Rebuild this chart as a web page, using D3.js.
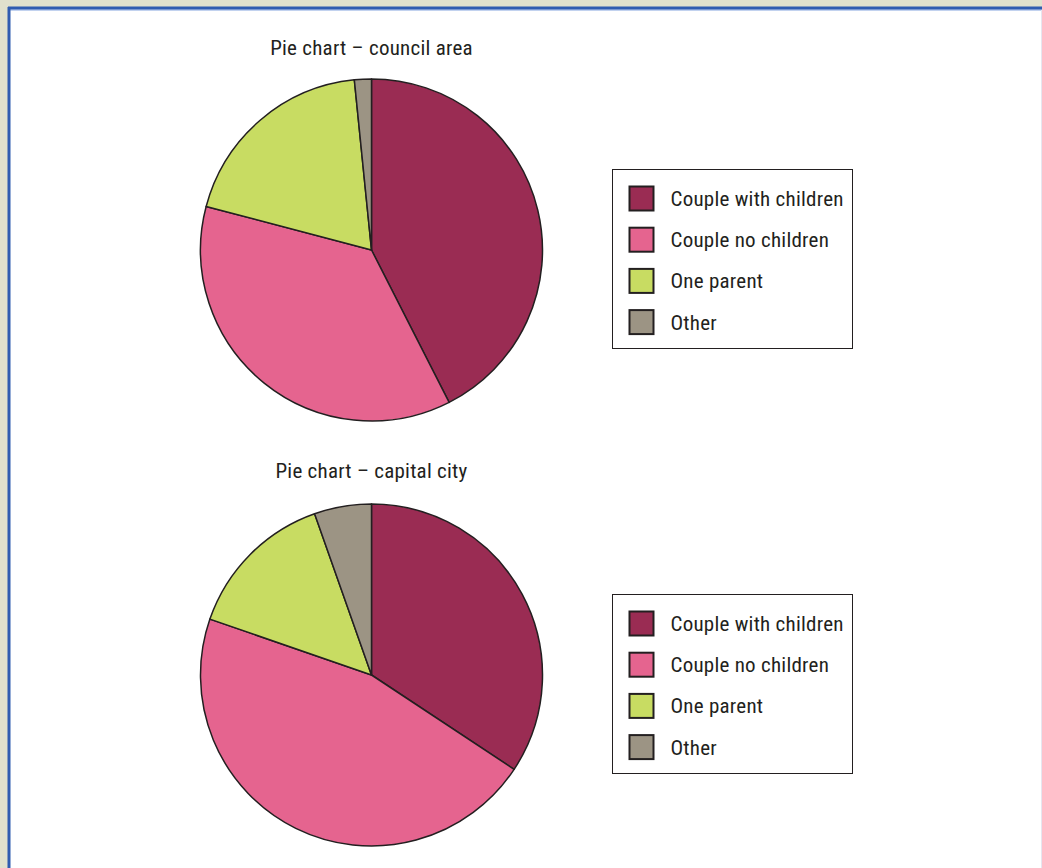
<!DOCTYPE html>
<html>
<head>
<meta charset="utf-8">
<script src="https://cdn.jsdelivr.net/npm/d3@7"></script>
<style>
  html, body { margin: 0; padding: 0; background: #e0e1cd; }
  svg { display: block; }
</style>
</head>
<body>
<svg></svg>
<script>
const categories = ["Couple with children", "Couple no children", "One parent", "Other"];
const councilValues = [42.5, 36.6, 19.3, 1.6];
const capitalValues = [34.3, 46.0, 14.3, 5.4];
const chartTitles = ["Pie chart \u2013 council area", "Pie chart \u2013 capital city"];
const colors = ["#9a2c53", "#e5648f", "#c8dc62", "#9c9484"];

const W = 1042, H = 868;
const svg = d3.select("svg").attr("width", W).attr("height", H);
const font = "'Liberation Sans Narrow', 'Arial Narrow', 'Roboto Condensed', sans-serif";

// frame
svg.append("rect").attr("x", 8).attr("y", 7).attr("width", W).attr("height", H)
    .attr("fill", "#fff");
svg.append("line").attr("x1", 8).attr("y1", 10).attr("x2", W).attr("y2", 10)
    .attr("stroke", "#86a5e0").attr("stroke-width", 1);
svg.append("line").attr("x1", 8).attr("y1", 8).attr("x2", W).attr("y2", 8)
    .attr("stroke", "#2f5cb0").attr("stroke-width", 3);
svg.append("line").attr("x1", 9).attr("y1", 7).attr("x2", 9).attr("y2", H)
    .attr("stroke", "#2f5cb0").attr("stroke-width", 3);
svg.append("line").attr("x1", 1041.5).attr("y1", 10).attr("x2", 1041.5).attr("y2", H)
    .attr("stroke", "#e6e6f0").attr("stroke-width", 1);

const color = d3.scaleOrdinal().domain(categories).range(colors);
const pie = d3.pie().sort(null).value(d => d.v);
const arc = d3.arc().innerRadius(0).outerRadius(171);

const panels = [
    { title: chartTitles[0], values: councilValues, cx: 371.5, cy: 250, ty: 55, lx: 612.5, ly: 169.5 },
    { title: chartTitles[1], values: capitalValues, cx: 371.5, cy: 675, ty: 478, lx: 612.5, ly: 594.5 }
];

panels.forEach(p => {
    svg.append("text")
        .attr("x", p.cx).attr("y", p.ty)
        .attr("text-anchor", "middle")
        .style("font-family", font).style("font-size", "21px")
        .style("letter-spacing", "0.25px").style("fill", "#231f20")
        .text(p.title);

    const data = categories.map((c, i) => ({ c, v: p.values[i] }));
    const g = svg.append("g").attr("transform", `translate(${p.cx},${p.cy})`);
    g.selectAll("path").data(pie(data)).join("path")
        .attr("d", arc)
        .attr("fill", d => color(d.data.c))
        .attr("stroke", "#231f20")
        .attr("stroke-width", 1.5)
        .attr("stroke-linejoin", "round");

    // legend
    const lg = svg.append("g").attr("transform", `translate(${p.lx},${p.ly})`);
    lg.append("rect").attr("width", 240).attr("height", 179)
        .attr("fill", "#fff").attr("stroke", "#231f20").attr("stroke-width", 1);
    const item = lg.selectAll("g.item").data(categories).join("g")
        .attr("class", "item")
        .attr("transform", (d, i) => `translate(0,${29 + i * 41.2})`);
    item.append("rect")
        .attr("x", 17).attr("y", -12).attr("width", 24).attr("height", 24)
        .attr("fill", d => color(d))
        .attr("stroke", "#231f20").attr("stroke-width", 2);
    item.append("text")
        .attr("x", 58).attr("y", 7.5)
        .style("font-family", font).style("font-size", "21px")
        .style("letter-spacing", "0.25px").style("fill", "#231f20")
        .text(d => d);
});
</script>
</body>
</html>
